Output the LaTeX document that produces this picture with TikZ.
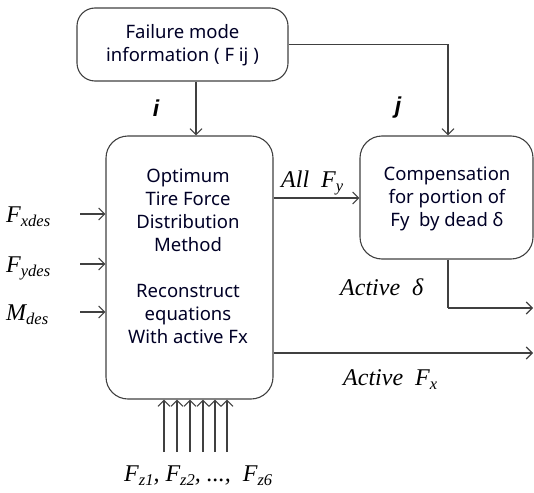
\documentclass[tikz,border=0pt]{standalone}
\usepackage{fontspec}
\setmainfont{Noto Sans}
\newfontfamily\tms{Liberation Serif}
\newfontfamily\ars{Liberation Sans}
\usetikzlibrary{arrows.meta}
\newcommand{\lsub}[1]{\raisebox{-0.4ex}{\fontsize{16.5}{16.5}\selectfont #1}}
\tikzset{
  x=1pt,y=-1pt,
  ln/.style={line width=1.1pt,draw=black!75},
  arr/.style={ln,-{Straight Barb[length=6pt,width=12pt,line width=1.1pt]}},
  boxs/.style={ln,rounded corners=18pt,inner sep=0pt},
  btxt/.style={font=\fontsize{18.5}{23}\selectfont,text=black!85!blue,align=center,inner sep=0pt},
  mlab/.style={font=\tms\itshape\fontsize{24}{24}\selectfont,inner sep=0pt},
  ilab/.style={font=\ars\bfseries\itshape\fontsize{23}{23}\selectfont,inner sep=0pt}
}
\begin{document}
\begin{tikzpicture}
\useasboundingbox (0,0) rectangle (534,492);
% boxes
\node[boxs,minimum width=211pt,minimum height=73pt] (top) at (182.5,44.5) {};
\node[btxt] (toptxt) at (182.5,45.5) {Failure mode\\information ( F ij )};
\node[boxs,minimum width=167pt,minimum height=263pt,rounded corners=22pt] (main) at (189.5,267.5) {};
\node[btxt] (maintxt) at (188,256) {Optimum\\Tire Force\\Distribution\\Method\\[23pt]Reconstruct\\equations\\With active Fx};
\node[boxs,minimum width=173pt,minimum height=123pt,rounded corners=22pt] (comp) at (446.5,197.5) {};
\node[btxt] (comptxt) at (447,199) {Compensation\\for portion of\\Fy\ \ by dead δ};
% coordinates
\coordinate (ax) at (196,0);
\coordinate (jx) at (448,0);
\coordinate (fyy) at (0,198);
\coordinate (fxy) at (0,353);
\coordinate (dcorner) at (448,308);
\coordinate (dend) at (533,308);
\coordinate (fxend) at (533,353);
% connectors from top
\draw[arr] (top.south -| ax) -- (main.north -| ax);
\draw[arr] (top.east) -| (comp.north -| jx);
\draw[arr] (main.east |- fyy) -- (comp.west |- fyy);
\draw[ln] (comp.south -| dcorner) -- (dcorner);
\draw[arr] (dcorner) -- (dend);
\draw[arr] (main.east |- fxy) -- (fxend);
% inputs
\coordinate (in1) at (80,214);
\coordinate (in2) at (80,264);
\coordinate (in3) at (80,312);
\draw[arr] (in1) -- (main.west |- in1);
\draw[arr] (in2) -- (main.west |- in2);
\draw[arr] (in3) -- (main.west |- in3);
\node[mlab,anchor=base west] (lfx) at (6,222) {F\lsub{xdes}};
\node[mlab,anchor=base west] (lfy) at (6,272) {F\lsub{ydes}};
\node[mlab,anchor=base west] (lmz) at (6,320) {M\lsub{des}};
% bottom arrows
\foreach \i/\xx in {1/164,2/177,3/190,4/203,5/215,6/227}{
  \coordinate (b\i) at (\xx,452);
  \draw[arr] (b\i) -- (main.south -| b\i);
}
\node[mlab,anchor=base west] (lfz) at (124,481) {F\lsub{z1}, F\lsub{z2}, ..., \ F\lsub{z6}};
% labels
\node[ilab] (li) at (156,108) {i};
\node[ilab] (lj) at (398,108) {j};
\node[mlab,anchor=base west] (lall) at (281,187) {All\ \ F\lsub{y}};
\node[mlab,anchor=base west] (lad) at (340,295) {Active\ \ δ};
\node[mlab,anchor=base west] (lafx) at (343,385) {Active\ \ F\lsub{x}};
\end{tikzpicture}
\end{document}
